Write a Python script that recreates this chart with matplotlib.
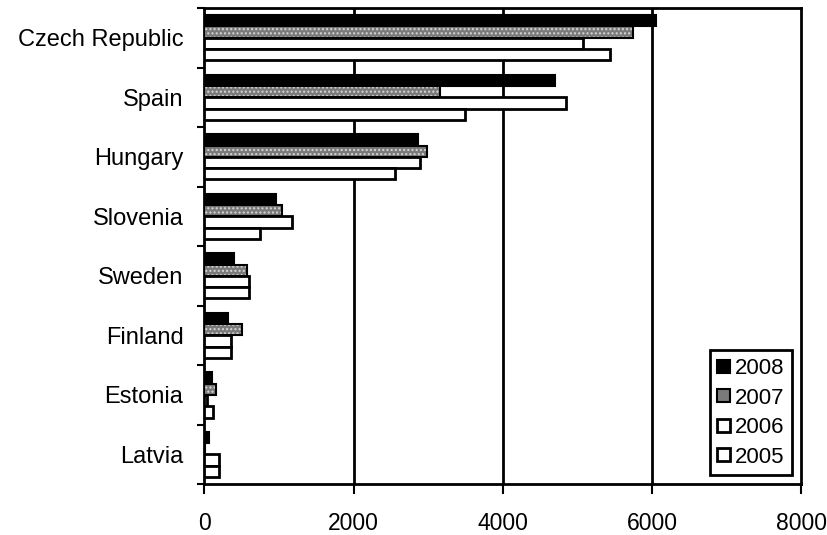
"""Horizontal grouped bar chart, 2005-2008, by country."""

import matplotlib

matplotlib.use("Agg")

import matplotlib.pyplot as plt
import numpy as np

plt.rcParams["font.family"] = ["Liberation Sans", "DejaVu Sans"]
plt.rcParams["hatch.linewidth"] = 1.0

COUNTRIES = ["Czech Republic", "Spain", "Hungary", "Slovenia",
             "Sweden", "Finland", "Estonia", "Latvia"]
YEARS = ["2008", "2007", "2006", "2005"]
VALUES_2008 = [6050, 4700, 2870, 965, 400, 320, 110, 70]
VALUES_2007 = [5750, 3160, 2980, 1040, 575, 500, 160, 10]
VALUES_2006 = [5070, 4850, 2890, 1170, 600, 360, 40, 200]
VALUES_2005 = [5430, 3490, 2560, 750, 600, 360, 120, 200]
X_TICKS = [0, 2000, 4000, 6000, 8000]

fig = plt.figure(figsize=(8.27, 5.35), dpi=100)
ax = fig.add_axes([0.247, 0.095, 0.722, 0.89])

y = np.arange(len(COUNTRIES))
h = 0.19
series = [VALUES_2008, VALUES_2007, VALUES_2006, VALUES_2005]
offsets = [-1.5 * h, -0.5 * h, 0.5 * h, 1.5 * h]

for i, (vals, off) in enumerate(zip(series, offsets)):
    if i == 0:
        ax.barh(y + off, vals, height=h, color="black", edgecolor="black",
                linewidth=1.5, zorder=3, label=YEARS[i])
    elif i == 1:
        # grey speckled fill, then a black outline on top
        ax.barh(y + off, vals, height=h, color="#7a7a7a", edgecolor="#d8d8d8",
                hatch="....", linewidth=0, zorder=3)
        ax.barh(y + off, vals, height=h, fill=False, edgecolor="black",
                linewidth=1.5, zorder=4)
        ax.barh([0], [0], height=h, color="#7a7a7a", edgecolor="black",
                linewidth=1.5, label=YEARS[i])
    else:
        ax.barh(y + off, vals, height=h, color="white", edgecolor="black",
                linewidth=2, zorder=3, label=YEARS[i])

ax.set_xlim(0, 8000)
ax.set_ylim(len(COUNTRIES) - 0.5, -0.5)
ax.set_xticks(X_TICKS)
ax.set_xticklabels([str(t) for t in X_TICKS], fontsize=16.5)
ax.set_yticks(y)
ax.set_yticklabels(COUNTRIES, fontsize=17)
ax.set_yticks(np.arange(-0.5, len(COUNTRIES), 1.0), minor=True)
ax.tick_params(axis="y", which="major", length=0, pad=15)
ax.tick_params(axis="y", which="minor", length=5, width=1.5, direction="out")
ax.tick_params(axis="x", length=7, width=1.5, direction="out", pad=13)

for gx in X_TICKS[1:-1]:
    ax.axvline(gx, color="black", linewidth=2, zorder=2)

for sp in ax.spines.values():
    sp.set_linewidth(2)
    sp.set_color("black")

leg = ax.legend(loc="lower right", fontsize=16, frameon=True, fancybox=False,
                edgecolor="black", handlelength=0.55, handleheight=0.55,
                handletextpad=0.25, labelspacing=0.38, borderpad=0.35,
                borderaxespad=0.4)
leg.get_frame().set_linewidth(2)
leg.get_frame().set_alpha(1)

fig.savefig("out.png", dpi=100)
